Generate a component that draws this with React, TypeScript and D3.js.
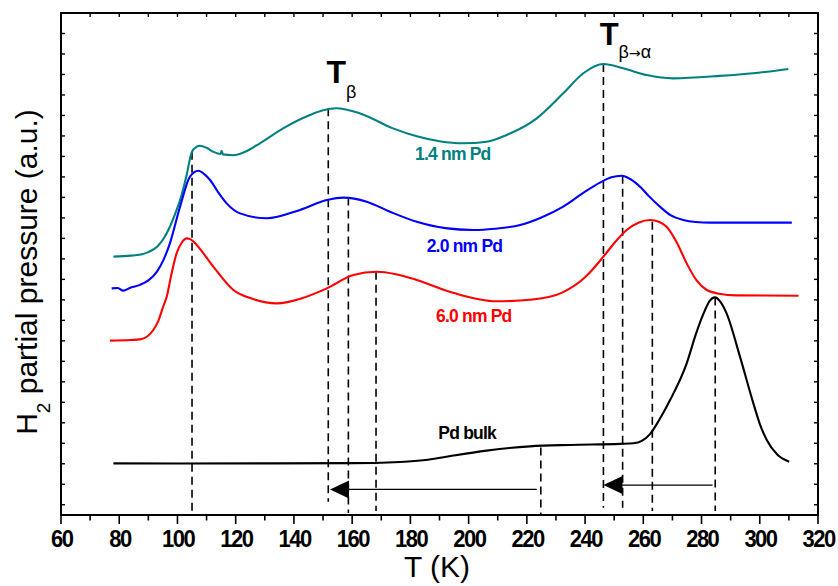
import React from 'react';
import * as d3 from 'd3';

// ---- data (T in K, H2 partial pressure in a.u., vertically offset traces) ----
const xTickValues = d3.range(60, 321, 20);
const xMinorValues = d3.range(70, 320, 20);
const yTickValues = d3.range(0, 25, 1);

const pd14nm: [number, number][] = [
  [78, 12.11], [84, 12.16], [87, 12.2], [90, 12.33], [93, 12.59], [95.2, 12.98], [97.4, 13.57],
  [99.2, 14.2], [100.9, 14.87], [103, 16.0], [104.9, 17.2], [106.5, 17.47], [107.7, 17.52], [110, 17.42],
  [112.3, 17.23], [114.8, 17.12], [115.2, 17.28], [115.6, 17.1], [119.2, 17.06], [124, 17.28],
  [128.3, 17.64], [136.3, 18.37], [145.5, 19.02], [150, 19.25], [154.5, 19.35], [162.7, 19.1],
  [174, 18.37], [182.2, 17.98], [190, 17.74], [198.2, 17.64], [206.2, 17.72], [213.1, 18.05],
  [223.4, 18.86], [232.5, 20.08], [239.4, 21.06], [246.3, 21.51], [253.1, 21.3], [261.2, 20.97],
  [270.3, 20.81], [286.3, 20.93], [297.8, 21.06], [309.8, 21.27],
];

const pd20nm: [number, number][] = [
  [77.4, 10.56], [79.5, 10.58], [81.3, 10.45], [84, 10.6], [87.1, 10.73], [90, 10.95],
  [92.9, 11.37], [95.2, 11.95], [97.4, 12.76], [100.9, 14.55], [104.3, 16.01], [107.2, 16.3],
  [109.5, 16.1], [111.2, 15.85], [114, 15.25], [116.9, 14.71], [121.5, 14.22], [130.6, 13.98],
  [142.1, 14.39], [151.3, 14.87], [157, 14.99], [165, 14.79], [173, 14.3], [182.2, 13.81],
  [192, 13.5], [201.6, 13.41], [209, 13.47], [217.7, 13.65], [225, 14.02], [232.5, 14.55],
  [240, 15.28], [245.1, 15.72], [249, 15.98], [252.6, 16.06], [255.5, 15.9], [258.9, 15.52],
  [262, 15.05], [265.7, 14.55], [269.5, 14.12], [273.7, 13.9], [278, 13.8], [282.9, 13.77],
  [311, 13.77],
];

const pd60nm: [number, number][] = [
  [76.8, 8.01], [84, 8.04], [87.1, 8.07], [89.5, 8.2], [91.7, 8.53], [93.5, 9.0], [95.1, 9.67],
  [96.3, 10.15], [98, 11.3], [99.7, 12.27], [101.5, 12.8], [103.2, 13.0], [104.8, 12.93], [106.6, 12.68],
  [112.3, 11.62], [119.2, 10.48], [126, 10.04], [134.1, 9.83], [143, 10.09], [151.3, 10.56],
  [160.4, 11.21], [168.4, 11.37], [175, 11.25], [182.2, 10.97], [195, 10.33], [209.6, 9.93],
  [222, 10.02], [232.5, 10.38], [240, 11.1], [246.3, 12.11], [250.5, 12.85], [254.3, 13.41],
  [258.5, 13.78], [262.3, 13.9], [265.5, 13.8], [268, 13.57], [271.5, 12.8], [274.9, 11.78],
  [278.3, 10.95], [281.8, 10.48], [286, 10.3], [292.1, 10.22], [313.3, 10.2],
];

const pdBulk: [number, number][] = [
  [78, 2.02], [100, 2.01], [130, 2.02], [160, 2.03], [170, 2.05], [178, 2.1], [186, 2.2],
  [194.7, 2.4], [206.2, 2.64], [214, 2.77], [221.1, 2.85], [234.8, 2.92], [252, 2.97],
  [256.6, 3.0], [259.5, 3.12], [262.3, 3.45], [265.5, 4.15], [269.2, 5.11], [274.9, 6.9],
  [278, 8.3], [280.6, 9.3], [282.8, 9.95], [284.6, 10.12], [286.5, 9.9], [288.6, 9.34],
  [293.2, 7.23], [297.8, 4.95], [300, 3.95], [302.4, 3.16], [306, 2.45], [310.1, 2.1],
];

const dashT = [105, 151.8, 158.7, 168.2, 224.8, 246.3, 252.9, 263.1, 284.7];
const dashTop = [17.23, 19.35, 14.99, 11.37, 2.8, 21.51, 16.06, 13.81, 10.12];
const dashBottom = [-0.3, 0.15, -0.4, -0.3, -0.45, -0.15, -0.15, -0.3, -0.3];

const arrowFrom = [223.4, 283.8];
const arrowTo = [152.4, 246.3];
const arrowLevel = [0.75, 0.96];

const seriesNames = ['1.4 nm Pd', '2.0 nm Pd', '6.0 nm Pd', 'Pd bulk'];
const seriesData = [pd14nm, pd20nm, pd60nm, pdBulk];
const seriesColors = ['#008080', '#0000FF', '#FF0000', '#000000'];
// label anchor (T, a.u.)
const labelT = [181.6, 185.6, 188.8, 189.6];
const labelV = [16.83, 12.35, 8.93, 3.19];

const FONT = "'Liberation Sans', Arial, Helvetica, sans-serif";

export default function App() {
  const W = 838;
  const H = 586;
  const x = d3.scaleLinear().domain([60, 320]).range([61, 818]);
  const y = d3.scaleLinear().domain([-0.5, 24]).range([515, 13]);
  const line = d3
    .line<[number, number]>()
    .x((d) => x(d[0]))
    .y((d) => y(d[1]))
    .curve(d3.curveMonotoneX);

  const x0 = x(60), x1 = x(320), yTop = y(24), yBot = y(-0.5);

  return (
    <svg
      width={W}
      height={H}
      viewBox={`0 0 ${W} ${H}`}
      style={{ position: 'absolute', left: 0, top: 0, background: '#fff' }}
      fontFamily={FONT}
    >
      <rect x={0} y={0} width={W} height={H} fill="#fff" />

      {/* dashed guide lines */}
      {dashT.map((t, i) => (
        <line
          key={'d' + i}
          x1={x(t)}
          x2={x(t)}
          y1={y(dashTop[i])}
          y2={y(dashBottom[i])}
          stroke="#000"
          strokeWidth={1.6}
          strokeDasharray="8,5"
        />
      ))}

      {/* curves */}
      {seriesData.map((d, i) => (
        <path key={'s' + i} d={line(d) || ''} fill="none" stroke={seriesColors[i]} strokeWidth={2.1} />
      ))}

      {/* arrows */}
      {arrowFrom.map((f, i) => {
        const tip = x(arrowTo[i]);
        const yy = y(arrowLevel[i]);
        return (
          <g key={'a' + i}>
            <line x1={tip + 18} x2={x(f)} y1={yy} y2={yy} stroke="#000" strokeWidth={1.3} />
            <path d={`M${tip},${yy} L${tip + 19},${yy - 9} L${tip + 19},${yy + 9} Z`} fill="#000" />
          </g>
        );
      })}

      {/* series labels */}
      {seriesNames.map((n, i) => (
        <text
          key={'l' + i}
          x={x(labelT[i])}
          y={y(labelV[i])}
          fill={seriesColors[i]}
          fontSize={17.5}
          fontWeight="bold"
          letterSpacing={-0.8}
        >
          {n}
        </text>
      ))}

      {/* T_beta annotation */}
      <text x={x(151.2)} y={y(20.57)} fontSize={32} fontWeight="bold" fill="#000">
        T
        <tspan fontSize={18} fontWeight="normal" dy={15}>
          β
        </tspan>
      </text>
      {/* T_beta->alpha annotation */}
      <text x={x(245.0)} y={y(22.44)} fontSize={31} fontWeight="bold" fill="#000">
        T
        <tspan fontSize={18} fontWeight="normal" dy={13.5}>
          β
        </tspan>
        <tspan fontFamily="'DejaVu Sans', sans-serif" fontSize={14} fontWeight="normal">
          →
        </tspan>
        <tspan fontSize={18} fontWeight="normal">
          α
        </tspan>
      </text>

      {/* frame */}
      <rect x={x0} y={yTop} width={x1 - x0} height={yBot - yTop} fill="none" stroke="#000" strokeWidth={2} />

      {/* bottom ticks (outward) */}
      {xTickValues.map((t) => (
        <line key={'bt' + t} x1={x(t)} x2={x(t)} y1={yBot} y2={yBot + 9} stroke="#000" strokeWidth={1.6} />
      ))}
      {xMinorValues.map((t) => (
        <line key={'bm' + t} x1={x(t)} x2={x(t)} y1={yBot} y2={yBot + 5.5} stroke="#000" strokeWidth={1.6} />
      ))}
      {/* top ticks (inward) */}
      {[...xTickValues, ...xMinorValues].map((t) => (
        <line key={'tt' + t} x1={x(t)} x2={x(t)} y1={yTop} y2={yTop + 4} stroke="#000" strokeWidth={1.4} />
      ))}
      {/* left / right ticks (inward) */}
      {yTickValues.map((v) => (
        <g key={'yt' + v}>
          <line x1={x0} x2={x0 + 4} y1={y(v)} y2={y(v)} stroke="#000" strokeWidth={1.4} />
          <line x1={x1} x2={x1 - 4} y1={y(v)} y2={y(v)} stroke="#000" strokeWidth={1.4} />
        </g>
      ))}

      {/* x tick labels */}
      {xTickValues.map((t) => (
        <text
          key={'xl' + t}
          transform={`translate(${x(t) + 0.7},546.5) scale(1,1.08)`}
          textAnchor="middle"
          fontSize={22}
          fontWeight="bold"
          letterSpacing={-1.5}
          fill="#000"
        >
          {t}
        </text>
      ))}

      {/* axis titles */}
      <text x={437} y={577} textAnchor="middle" fontSize={30} fill="#000">
        T (K)
      </text>
      <text transform="translate(37,272) rotate(-90)" textAnchor="middle" fontSize={30} fill="#000">
        H
        <tspan fontSize={19} dy={13}>
          2
        </tspan>
        <tspan dy={-13}> partial pressure (a.u.)</tspan>
      </text>
    </svg>
  );
}
